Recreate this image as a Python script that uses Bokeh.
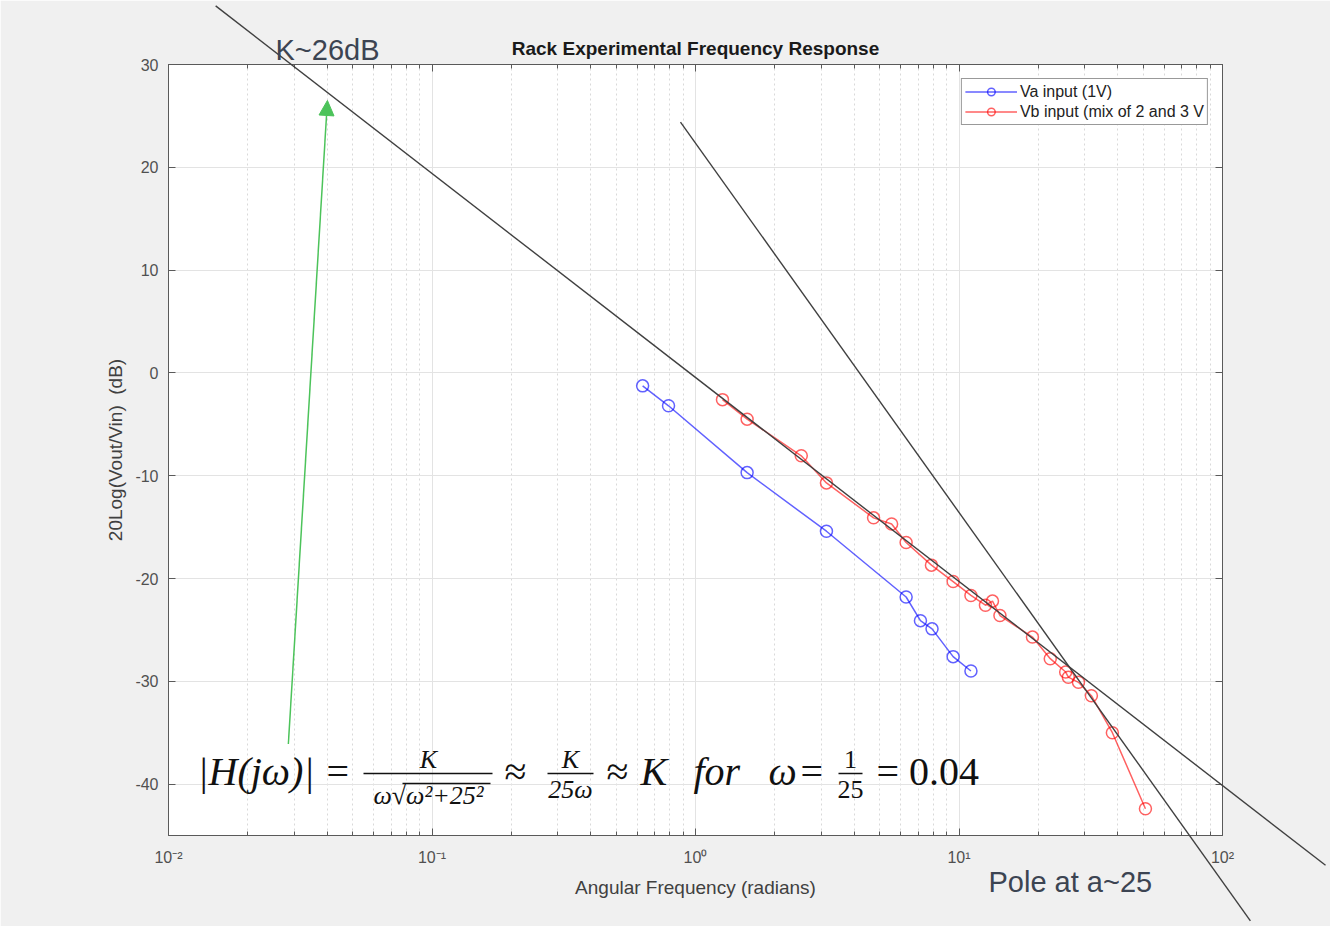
from bokeh.plotting import figure
from bokeh.models import (Range1d, FixedTicker, LogAxis, LinearAxis, Label, Arrow,
                          NormalHead, CustomJSTickFormatter)
from bokeh.core.properties import value
from bokeh.embed import file_html
from bokeh.resources import INLINE

# ---------------- data ----------------
va_w = [0.63, 0.79, 1.57, 3.14, 6.3, 7.14, 7.9, 9.5, 11.1]
va_db = [-1.26, -3.2, -9.7, -15.4, -21.8, -24.1, -24.9, -27.6, -29.0]

vb_w = [1.266, 1.57, 2.52, 3.14, 4.74, 5.55, 6.3, 7.86, 9.5, 11.1, 12.6, 13.4,
        14.3, 19.0, 22.2, 25.4, 26.0, 28.4, 31.8, 38.2, 51.0]
vb_db = [-2.6, -4.5, -8.06, -10.7, -14.1, -14.7, -16.5, -18.7, -20.3, -21.65, -22.6,
         -22.2, -23.6, -25.7, -27.8, -29.1, -29.6, -30.1, -31.4, -35.0, -42.4]

# hand-drawn asymptotes (endpoints, they run past the axes box)
asym1_w = [0.0151, 246.0]
asym1_db = [35.7, -47.9]
asym2_w = [0.877, 127.6]
asym2_db = [24.4, -53.3]

# green arrow (tail -> tip)
arrow_w = [0.0285, 0.0401]
arrow_db = [-36.1, 26.5]

x_major = [0.01, 0.1, 1, 10, 100]
x_minor = [m * d for d in [0.01, 0.1, 1, 10] for m in range(2, 10)]
x_labels = ["10\u207b\u00b2", "10\u207b\u00b9", "10\u2070", "10\u00b9", "10\u00b2"]
y_major = [-40, -30, -20, -10, 0, 10, 20, 30]
y_labels = ["-40", "-30", "-20", "-10", "0", "10", "20", "30"]

# ---------------- geometry of the axes box (pixels) ----------------
W, H = 1330, 926
L, R, T, B = 168, 1222, 64, 835

def wx(px):
    return 10 ** ((px - L) / ((R - L) / 4) - 2)

def dby(py):
    return 30 - (py - T) * 75 / (B - T)

SANS = "Liberation Sans"
SERIF = "Liberation Serif"

p = figure(width=W, height=H, x_axis_type="log",
           x_range=Range1d(0.01, 100), y_range=Range1d(-45, 30),
           output_backend="svg", toolbar_location=None,
           min_border_left=L, min_border_right=W - R,
           min_border_top=T, min_border_bottom=H - B,
           title="Rack Experimental Frequency Response")

p.background_fill_color = "white"
p.border_fill_color = "#f0f0f0"
p.outline_line_color = "#5a5a5a"
p.outline_line_width = 1

p.title.align = "center"
p.title.text_font = SANS
p.title.text_font_size = "19px"
p.title.text_font_style = "bold"
p.title.text_color = "#1a1a1a"
p.title.standoff = 12

xt = FixedTicker(ticks=x_major, minor_ticks=x_minor)
yt = FixedTicker(ticks=y_major, minor_ticks=[])

def style_axis(ax):
    ax.axis_line_color = "#5a5a5a"
    ax.major_tick_line_color = "#5a5a5a"
    ax.minor_tick_line_color = "#5a5a5a"
    ax.major_tick_in = 7
    ax.major_tick_out = 0
    ax.minor_tick_in = 4
    ax.minor_tick_out = 0
    ax.major_label_text_font = SANS
    ax.major_label_text_font_size = "16px"
    ax.major_label_text_color = "#505050"
    ax.axis_label_text_font = SANS
    ax.axis_label_text_font_size = "19px"
    ax.axis_label_text_font_style = "normal"
    ax.axis_label_text_color = "#404040"

xa = p.xaxis[0]
xa.ticker = xt
xa.major_label_overrides = {v: s for v, s in zip(x_major, x_labels)}
xa.axis_label = "Angular Frequency (radians)"
style_axis(xa)
xa.major_label_standoff = 13
xa.axis_label_standoff = 8

ya = p.yaxis[0]
ya.ticker = yt
ya.major_label_overrides = {v: s for v, s in zip(y_major, y_labels)}
ya.axis_label = "20Log(Vout/Vin) \u00a0(dB)"
style_axis(ya)
ya.major_label_standoff = 10
ya.axis_label_standoff = 6

blank = CustomJSTickFormatter(code="return ''")
top = LogAxis(ticker=xt, formatter=blank)
style_axis(top)
top.major_label_standoff = 0
right = LinearAxis(ticker=yt, formatter=blank)
style_axis(right)
right.major_label_standoff = 0
p.add_layout(top, "above")
p.add_layout(right, "right")

p.xgrid.ticker = xt
p.ygrid.ticker = yt
p.xgrid.grid_line_color = "#e3e3e3"
p.ygrid.grid_line_color = "#e3e3e3"
p.xgrid.minor_grid_line_color = "#d9d9d9"
p.xgrid.minor_grid_line_dash = "2 3"

# ---------------- series ----------------
blue = "#0000ff"
red = "#ff0000"
for w, d, c, lab in [(va_w, va_db, blue, "Va input (1V)"),
                     (vb_w, vb_db, red, "Vb input (mix of 2 and 3 V")]:
    p.line(w, d, line_color=c, line_width=1.5, line_alpha=0.62, legend_label=lab)
    p.scatter(w, d, marker="circle", size=12, fill_color=None, line_color=c,
              line_width=1.5, line_alpha=0.62, legend_label=lab)

lg = p.legend[0]
lg.location = "top_right"
lg.margin = 14
lg.padding = 3
lg.spacing = 1
lg.label_text_font = SANS
lg.label_text_font_size = "16px"
lg.label_text_color = "#222222"
lg.label_height = 19
lg.glyph_height = 19
lg.glyph_width = 52
lg.label_standoff = 3
lg.border_line_color = "#333333"
lg.border_line_width = 1
lg.background_fill_color = "white"
lg.background_fill_alpha = 1

# ---------------- asymptotes (drawn unclipped) & green arrow ----------------
for ws, ds in [(asym1_w, asym1_db), (asym2_w, asym2_db)]:
    p.line(ws, ds, line_color="#404040", line_width=1.4, level="overlay")

green = "#4cc35a"
p.add_layout(Arrow(end=NormalHead(size=15, fill_color=green, line_color=green),
                   x_start=arrow_w[0], y_start=arrow_db[0], x_end=arrow_w[1], y_end=arrow_db[1],
                   line_color=green, line_width=1.5))

# ---------------- notes outside the axes box (overlay text glyphs are not clipped) ----------------
notes = ["K~26dB", "Pole at a~25"]
notes_px = [275, 988]
notes_py = [49, 881]
p.text(x=[wx(v) for v in notes_px], y=[dby(v) for v in notes_py], text=notes,
       text_font=value(SANS), text_font_size="29px", text_color="#3c4452",
       text_baseline="middle", text_align="left", level="overlay")

# ---------------- formula ----------------
def t(px, py, s, size, italic=False, align="left"):
    p.add_layout(Label(x=wx(px), y=dby(py), text=s, text_font=SERIF, text_font_size=size,
                       text_font_style="italic" if italic else "normal", text_color="#111111",
                       text_baseline="middle", text_align=align))

def bar(px0, px1, py):
    p.add_layout(Arrow(end=None, x_start=wx(px0), y_start=dby(py), x_end=wx(px1), y_end=dby(py),
                       line_color="#111111", line_width=1.5))

big = "40px"
small = "26px"
t(197, 771, "|H(jω)|", big, italic=True)
t(326, 771, "=", big)
t(428, 759, "K", small, italic=True, align="center")
bar(363, 492, 773)
t(428, 795, "ω√ω²+25²", small, italic=True, align="center")
bar(402, 490, 783)
t(504, 771, "≈", big)
t(570, 759, "K", small, italic=True, align="center")
bar(547, 593, 773)
t(570, 789, "25ω", small, italic=True, align="center")
t(606, 771, "≈", big)
t(640, 771, "K", big, italic=True)
t(693, 771, "for", big, italic=True)
t(768, 771, "ω", big, italic=True)
t(800, 771, "=", big)
t(850, 759, "1", small, align="center")
bar(838, 862, 773)
t(850, 789, "25", small, align="center")
t(876, 771, "= 0.04", big)

open("out.html", "w").write(file_html(p, INLINE))
